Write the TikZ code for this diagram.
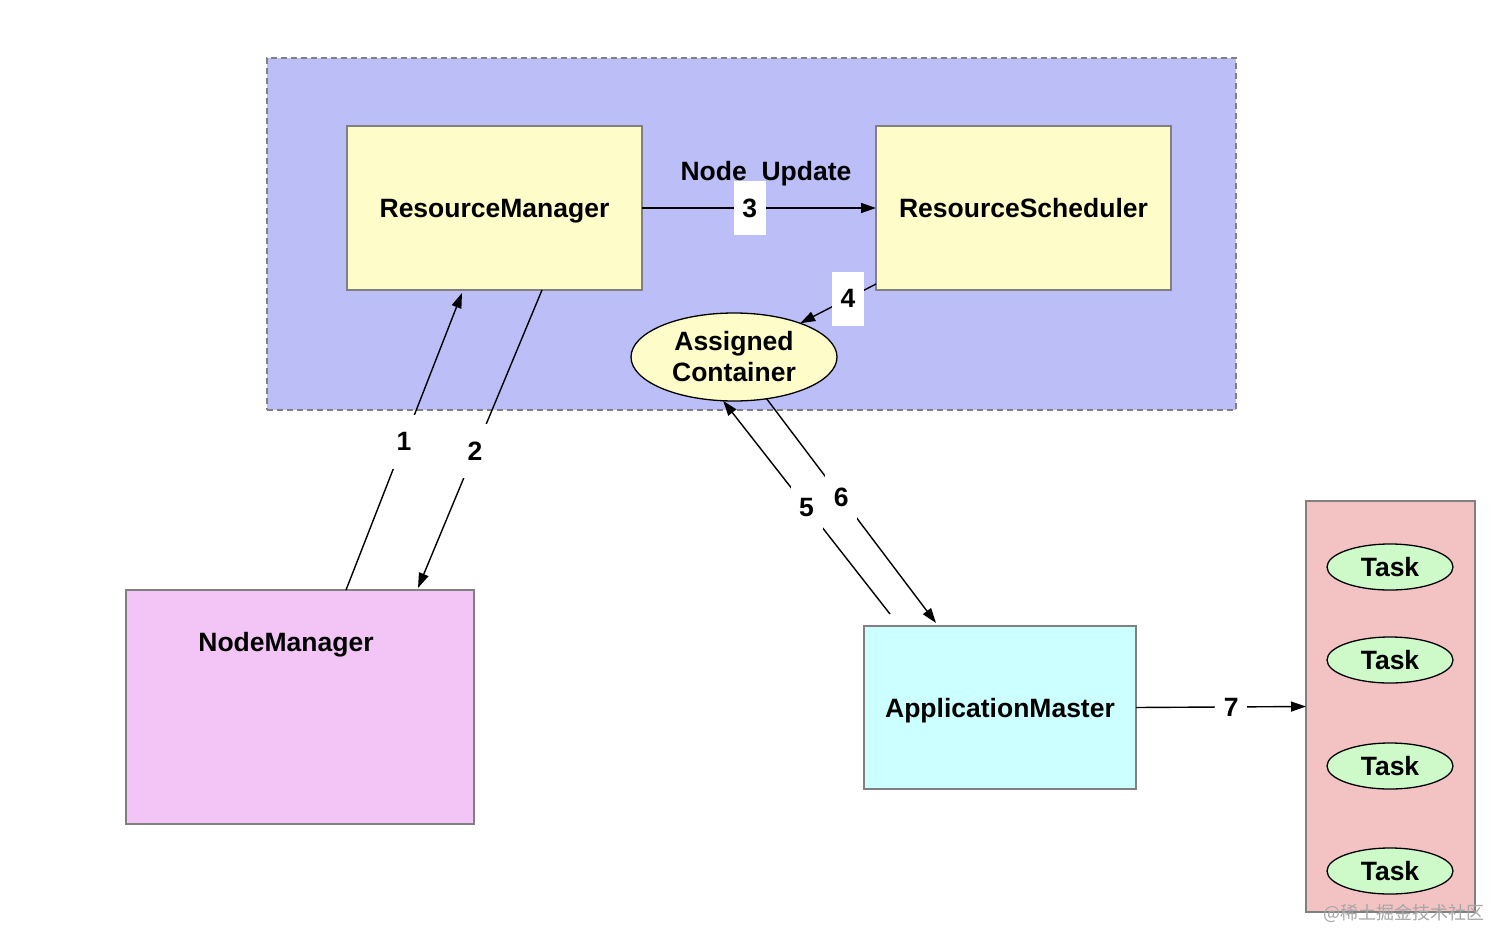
\documentclass[tikz,border=0pt]{standalone}
\usepackage{fontspec}
\setmainfont{Liberation Sans}
\newfontfamily\cjk{Noto Sans CJK SC}
\usetikzlibrary{arrows.meta,shapes.geometric}
\definecolor{clusterfill}{RGB}{188,190,248}
\definecolor{rmfill}{RGB}{254,252,200}
\definecolor{nmfill}{RGB}{243,196,246}
\definecolor{amfill}{RGB}{204,255,255}
\definecolor{panelfill}{RGB}{243,195,195}
\definecolor{taskfill}{RGB}{206,250,202}
\definecolor{edgegray}{RGB}{128,128,128}
\tikzset{
  txt/.style={font=\fontsize{26.5}{31}\selectfont\bfseries},
  boxnode/.style={draw=edgegray, line width=1.3pt, inner sep=0pt, outer sep=0pt, txt, text depth=0pt},
  ellnode/.style={ellipse, draw=black, line width=1.3pt, inner sep=0pt, outer sep=0pt, txt, align=center},
  arr/.style={line width=1.4pt, -{Triangle[length=15pt,width=10pt]}},
  lbl/.style={fill=white, inner sep=0pt, minimum width=32pt, minimum height=54pt, txt}
}
\begin{document}
\begin{tikzpicture}[x=1pt,y=-1pt]
\useasboundingbox[fill=white] (0,0) rectangle (1512,950);
% cluster
\node[draw=edgegray, dash pattern=on 6pt off 4pt, line width=1.2pt, fill=clusterfill,
      minimum width=969pt, minimum height=352pt, inner sep=0pt, outer sep=0pt] (cluster) at (751.5,234) {};
% boxes
\node[boxnode, fill=rmfill, minimum width=295pt, minimum height=164pt] (rm) at (494.5,208) {ResourceManager};
\node[boxnode, fill=rmfill, minimum width=295pt, minimum height=164pt] (rs) at (1023.5,208) {ResourceScheduler};
\node[ellnode, fill=rmfill, minimum width=206pt, minimum height=88pt] (ac) at (734,357) {Assigned\\Container};
\node[txt, text depth=0pt] (nu) at (766,171) {Node\ \ Update};
\node[boxnode, fill=nmfill, minimum width=348pt, minimum height=234pt] (nm) at (300,707) {};
\node[txt, text depth=0pt] (nmt) at (286,642) {NodeManager};
\node[boxnode, fill=amfill, minimum width=272pt, minimum height=163pt] (am) at (1000,707.5) {ApplicationMaster};
\node[boxnode, fill=panelfill, minimum width=169pt, minimum height=411pt] (panel) at (1390.5,706.5) {};
\node[ellnode, fill=taskfill, minimum width=126pt, minimum height=46pt, text depth=0pt] (t1) at (1390,567) {Task};
\node[ellnode, fill=taskfill, minimum width=126pt, minimum height=46pt, text depth=0pt] (t2) at (1390,660) {Task};
\node[ellnode, fill=taskfill, minimum width=126pt, minimum height=46pt, text depth=0pt] (t3) at (1390,766) {Task};
\node[ellnode, fill=taskfill, minimum width=126pt, minimum height=46pt, text depth=0pt] (t4) at (1390,871) {Task};
% connectors
\draw[arr] ([xshift=220pt]nm.north west) -- node[lbl, pos=0.5] (l1) {1} ([xshift=115pt,yshift=-3pt]rm.south west);
\draw[arr] ([xshift=195pt]rm.south west) -- node[lbl, pos=0.54] (l2) {2} ([xshift=292pt,yshift=2pt]nm.north west);
\draw[arr] (rm.east) -- node[lbl, pos=0.46] (l3) {3} (rs.west);
\draw[arr] ([yshift=6pt]rs.south west) -- node[lbl, pos=0.37] (l4) {4} (ac.27);
\draw[arr] ([xshift=26pt,yshift=12pt]am.north west) -- node[lbl, pos=0.5] (l5) {5} (ac.256);
\draw[arr] (ac.-52) -- node[lbl, pos=0.44] (l6) {6} ([xshift=72pt,yshift=3pt]am.north west);
\draw[arr] (am.east) -- node[lbl, pos=0.56] (l7) {7} (panel.west);
% watermark
\node[font=\cjk\fontsize{18}{20}\selectfont, text=black!35, anchor=east] (wm) at (1488,913) {@稀土掘金技术社区};
\end{tikzpicture}
\end{document}
